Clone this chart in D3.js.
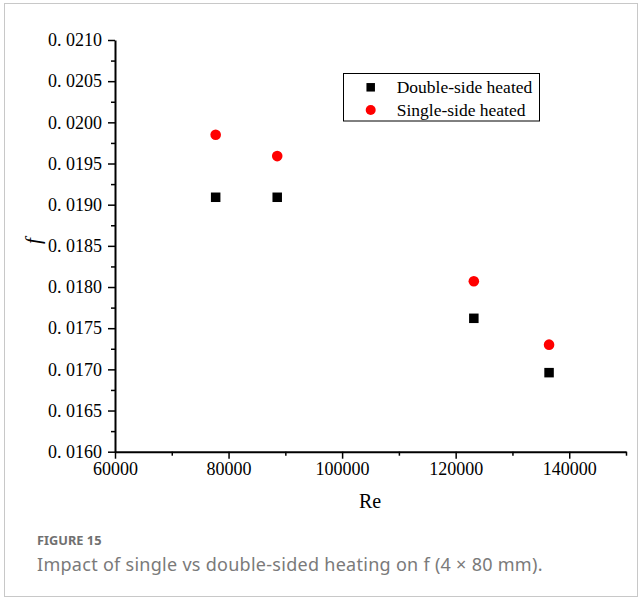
<!DOCTYPE html>
<html>
<head>
<meta charset="utf-8">
<script src="https://cdn.jsdelivr.net/npm/d3@7"></script>
<style>
  html, body { margin: 0; padding: 0; background: #fff; }
</style>
</head>
<body>
<svg id="chart" width="641" height="599"></svg>
<script>
// ---- data ----
const doubleRe = [77730, 88570, 123200, 136450];
const doubleF  = [0.01909, 0.01909, 0.01762, 0.01696];
const singleRe = [77730, 88570, 123200, 136450];
const singleF  = [0.01985, 0.01959, 0.01807, 0.01730];
const xTicks = [60000, 80000, 100000, 120000, 140000];
const xMinorTicks = [70000, 90000, 110000, 130000, 150000];
const yTicks = [0.0160, 0.0165, 0.0170, 0.0175, 0.0180, 0.0185, 0.0190, 0.0195, 0.0200, 0.0205, 0.0210];
const yMinorTicks = [0.01625, 0.01675, 0.01725, 0.01775, 0.01825, 0.01875, 0.01925, 0.01975, 0.02025, 0.02075];
const legendLabels = ["Double-side heated", "Single-side heated"];
const captionTitle = "FIGURE 15";
const captionText = "Impact of single vs double-sided heating on f (4 \u00d7 80 mm).";

const svg = d3.select("#chart");

// figure frame
svg.append("rect").attr("x", 4.5).attr("y", 3.5).attr("width", 633).attr("height", 593)
  .attr("fill", "none").attr("stroke", "#c8c8c8").attr("stroke-width", 1);

const x = d3.scaleLinear().domain([60000, 150000]).range([115, 626]);
const y = d3.scaleLinear().domain([0.0160, 0.0210]).range([451.7, 40]);

const serif = "'Liberation Serif', 'Times New Roman', serif";

// x axis
const gx = svg.append("g").attr("transform", `translate(0,${y(0.016)})`);
gx.call(d3.axisBottom(x).tickValues(xTicks).tickSize(7).tickSizeOuter(0).tickPadding(4).tickFormat(d3.format("d")));
gx.append("g").call(d3.axisBottom(x).tickValues(xMinorTicks).tickSize(4).tickSizeOuter(0).tickFormat(""))
  .select(".domain").remove();
gx.selectAll("text").attr("font-family", serif).attr("font-size", 18).attr("fill", "#000");

// y axis
const gy = svg.append("g").attr("transform", `translate(${x(60000)},0)`);
gy.call(d3.axisLeft(y).tickValues(yTicks).tickSize(7).tickSizeOuter(0).tickPadding(6)
  .tickFormat(d => "0. " + d3.format(".4f")(d).slice(2)));
gy.append("g").call(d3.axisLeft(y).tickValues(yMinorTicks).tickSize(4).tickSizeOuter(0).tickFormat(""))
  .select(".domain").remove();
gy.selectAll("text").attr("font-family", serif).attr("font-size", 18).attr("fill", "#000");

svg.selectAll(".domain").attr("stroke", "#000").attr("stroke-width", 2);
svg.selectAll(".tick line").attr("stroke", "#000").attr("stroke-width", 1.5);

// axis titles
svg.append("text").attr("x", 370).attr("y", 508).attr("text-anchor", "middle")
  .attr("font-family", serif).attr("font-size", 20).text("Re");
svg.append("text").attr("transform", "translate(40,241) rotate(-90)").attr("text-anchor", "middle")
  .attr("font-family", serif).attr("font-style", "italic").attr("font-size", 21).text("f");

// markers
const sq = 9.5;
svg.append("g").selectAll("rect").data(doubleRe.map((r, i) => [r, doubleF[i]])).join("rect")
  .attr("x", d => x(d[0]) - sq / 2).attr("y", d => y(d[1]) - sq / 2)
  .attr("width", sq).attr("height", sq).attr("fill", "#000");
svg.append("g").selectAll("circle").data(singleRe.map((r, i) => [r, singleF[i]])).join("circle")
  .attr("cx", d => x(d[0])).attr("cy", d => y(d[1])).attr("r", 5.3).attr("fill", "#ff0000");

// legend
const lg = svg.append("g");
lg.append("rect").attr("x", 343.5).attr("y", 73.5).attr("width", 196).attr("height", 47.5)
  .attr("fill", "#fff").attr("stroke", "#000").attr("stroke-width", 1);
lg.append("rect").attr("x", 370.7 - 4.25).attr("y", 87.3 - 4.25).attr("width", 8.5).attr("height", 8.5).attr("fill", "#000");
lg.append("circle").attr("cx", 370.7).attr("cy", 110).attr("r", 5).attr("fill", "#ff0000");
lg.selectAll("text.lbl").data(legendLabels).join("text").attr("class", "lbl")
  .attr("x", 396.7).attr("y", (d, i) => 93 + i * 22.7)
  .attr("font-family", serif).attr("font-size", 17.5).text(d => d);

// caption
svg.append("text").attr("x", 37).attr("y", 545).attr("font-family", "'Noto Sans', 'Open Sans', sans-serif")
  .attr("font-size", 12.8).attr("font-weight", "bold").attr("fill", "#707070").text(captionTitle);
svg.append("text").attr("x", 37).attr("y", 570.5).attr("font-family", "'Noto Sans', 'Open Sans', sans-serif")
  .attr("font-size", 18).attr("letter-spacing", 0.28).attr("fill", "#7a7a7a").text(captionText);
</script>
</body>
</html>
